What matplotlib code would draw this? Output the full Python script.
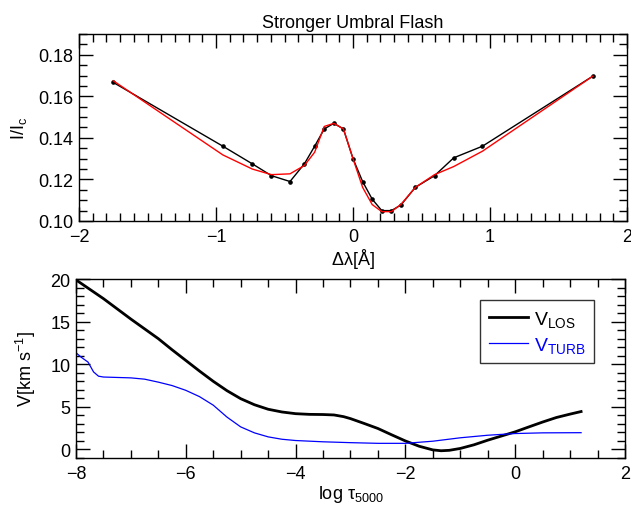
import matplotlib
matplotlib.use('Agg')
import matplotlib.pyplot as plt
from matplotlib.ticker import MultipleLocator

plt.rcParams['font.family'] = ['Liberation Sans', 'DejaVu Sans']
plt.rcParams['mathtext.fontset'] = 'custom'
plt.rcParams['mathtext.rm'] = 'Liberation Sans'
plt.rcParams['mathtext.it'] = 'Liberation Sans'

# top panel: observed (black dots) and fitted (red) profile
dlam = [-1.75, -0.95, -0.735, -0.595, -0.46, -0.355, -0.28, -0.21, -0.14, -0.07,
        0.0, 0.07, 0.14, 0.21, 0.28, 0.35, 0.455, 0.595, 0.735, 0.945, 1.75]
obs = [0.1667, 0.1360, 0.1275, 0.1218, 0.1190, 0.1275, 0.1360, 0.1443, 0.1470, 0.1443,
       0.1300, 0.1190, 0.1105, 0.1050, 0.1050, 0.1077, 0.1162, 0.1218, 0.1304, 0.1360, 0.1697]
fit = [0.1675, 0.1318, 0.1250, 0.1223, 0.1227, 0.1267, 0.1331, 0.1455, 0.1470, 0.1443,
       0.1300, 0.1162, 0.1079, 0.1045, 0.1045, 0.1080, 0.1162, 0.1223, 0.1262, 0.1336, 0.1697]

# bottom panel: stratifications
tau_los = [-8.0, -7.75, -7.5, -7.25, -7.0, -6.75, -6.5, -6.25, -6.0, -5.75, -5.5, -5.25,
           -5.0, -4.75, -4.5, -4.25, -4.0, -3.75, -3.5, -3.3, -3.125, -3.0, -2.75, -2.5,
           -2.25, -2.0, -1.75, -1.5, -1.35, -1.2, -1.0, -0.75, -0.5, -0.25, 0.0, 0.25,
           0.5, 0.75, 1.0, 1.2]
v_los = [19.9, 18.8, 17.7, 16.5, 15.3, 14.15, 13.0, 11.7, 10.45, 9.2, 8.0, 6.9,
         5.96, 5.25, 4.72, 4.4, 4.2, 4.12, 4.1, 4.05, 3.85, 3.62, 3.05, 2.46,
         1.72, 1.0, 0.38, -0.05, -0.15, -0.1, 0.12, 0.55, 1.09, 1.58, 2.07, 2.65,
         3.22, 3.75, 4.15, 4.45]
tau_turb = [-8.0, -7.9, -7.78, -7.68, -7.59, -7.5, -7.0, -6.75, -6.5, -6.25, -6.0, -5.75,
            -5.5, -5.25, -5.0, -4.75, -4.5, -4.25, -4.0, -3.5, -3.0, -2.5, -2.0, -1.5,
            -1.0, -0.5, 0.0, 0.5, 1.2]
v_turb = [11.35, 10.8, 10.25, 9.1, 8.6, 8.5, 8.4, 8.25, 7.9, 7.5, 6.94, 6.2,
          5.2, 3.8, 2.65, 1.95, 1.48, 1.2, 1.05, 0.9, 0.8, 0.72, 0.72, 0.97,
          1.37, 1.67, 1.87, 1.95, 1.97]

fs = 13

def style(ax, xmaj, xmin, ymaj, ymin):
    ax.xaxis.set_major_locator(MultipleLocator(xmaj))
    ax.xaxis.set_minor_locator(MultipleLocator(xmin))
    ax.yaxis.set_major_locator(MultipleLocator(ymaj))
    ax.yaxis.set_minor_locator(MultipleLocator(ymin))
    ax.tick_params(which='both', direction='in', top=True, right=True, labelsize=fs)
    ax.tick_params(which='major', length=10, width=1)
    ax.tick_params(which='minor', length=5.5, width=1)
    ax.tick_params(axis='x', pad=5)
    ax.tick_params(axis='y', pad=4)
    for s in ax.spines.values():
        s.set_linewidth(1)

fig = plt.figure(figsize=(6.31, 5.06), dpi=100)

ax1 = fig.add_axes([0.1252, 0.5613, 0.8685, 0.3695])
ax1.plot(dlam, obs, color='black', lw=1, marker='o', ms=2.3)
ax1.plot(dlam, fit, color='red', lw=1)
ax1.set_xlim(-2, 2)
ax1.set_ylim(0.10, 0.19)
style(ax1, 1, 0.1, 0.02, 0.005)
ax1.yaxis.set_major_formatter(plt.FormatStrFormatter('%.2f'))
ax1.set_title('Stronger Umbral Flash', fontsize=fs, pad=5)
ax1.set_xlabel(r'$\Delta\lambda$[Å]', fontsize=fs, labelpad=1)
ax1.set_ylabel(r'I/I$_\mathrm{c}$', fontsize=fs, labelpad=7)

ax2 = fig.add_axes([0.1204, 0.0929, 0.8701, 0.3537])
ax2.plot(tau_los, v_los, color='black', lw=2, label=r'V$_\mathrm{LOS}$')
ax2.plot(tau_turb, v_turb, color='blue', lw=0.9, label=r'V$_\mathrm{TURB}$')
ax2.set_xlim(-8, 2)
ax2.set_ylim(-1, 20)
style(ax2, 2, 0.5, 5, 1)
ax2.set_xlabel(r'log $\tau_{5000}$', fontsize=fs, labelpad=1)
ax2.set_ylabel(r'V[km s$^{-1}$]', fontsize=fs, labelpad=9)
leg = ax2.legend(loc='upper right', bbox_to_anchor=(0.944, 0.883), borderaxespad=0,
                 fontsize=fs + 1, frameon=True, fancybox=False, edgecolor='black',
                 handlelength=2.0, handletextpad=0.3, borderpad=0.45, labelspacing=0.3)
leg.get_frame().set_linewidth(1)
leg.get_texts()[1].set_color('blue')

fig.savefig('out.png', dpi=100)
